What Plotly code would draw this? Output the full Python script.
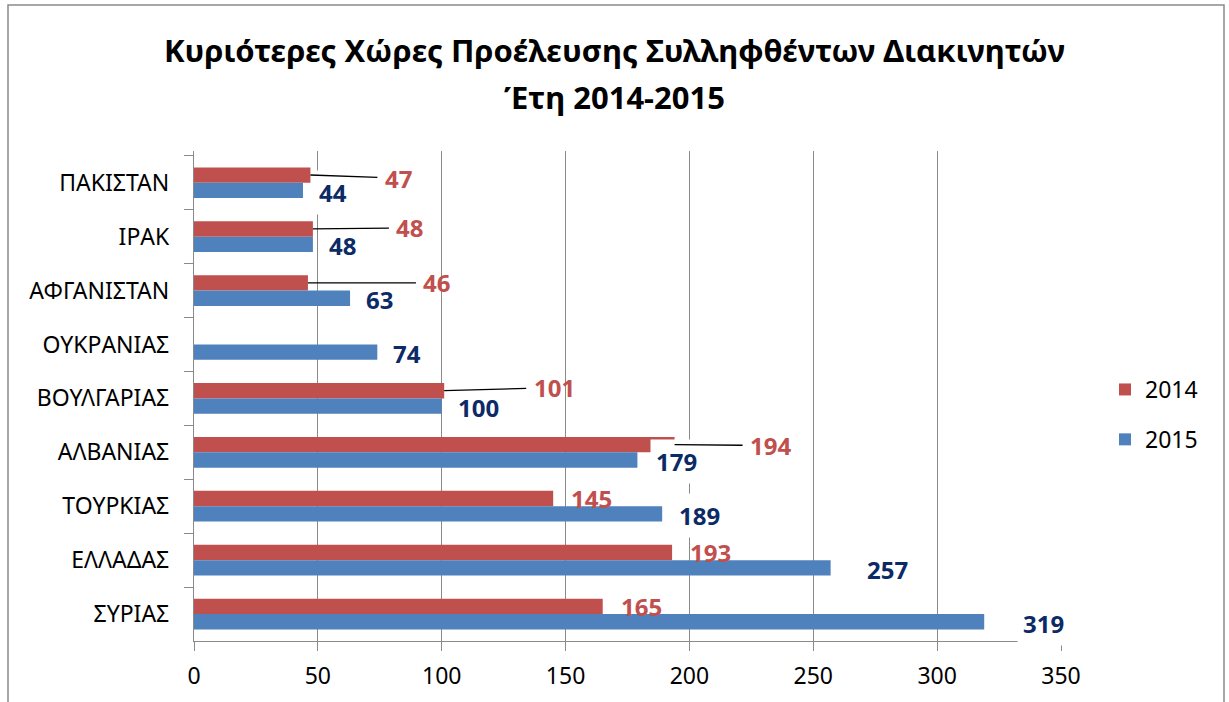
import plotly.graph_objects as go

# ---------------- data ----------------
categories = ["ΠΑΚΙΣΤΑΝ", "ΙΡΑΚ", "ΑΦΓΑΝΙΣΤΑΝ", "ΟΥΚΡΑΝΙΑΣ", "ΒΟΥΛΓΑΡΙΑΣ",
              "ΑΛΒΑΝΙΑΣ", "ΤΟΥΡΚΙΑΣ", "ΕΛΛΑΔΑΣ", "ΣΥΡΙΑΣ"]
values_2014 = [47, 48, 46, None, 101, 194, 145, 193, 165]
values_2015 = [44, 48, 63, 74, 100, 179, 189, 257, 319]
series_names = ["2014", "2015"]
x_ticks = [0, 50, 100, 150, 200, 250, 300, 350]
title_lines = ["Κυριότερες Χώρες Προέλευσης Συλληφθέντων Διακινητών", "Έτη 2014-2015"]

# ---------------- style ----------------
W, H = 1229, 702
PL, PR, PT, PB = 194, 1061, 151, 641
FONT = "Noto Sans"
RED = "#C0504D"
BLUE = "#4F81BD"
NAVY = "#0B2A66"
GRID = "#8A8A8A"
BAR_HALF = 7.75  # px, half bar thickness

def pxx(px):
    return (px - PL) / (PR - PL)

def pxy(py):
    return (PB - py) / (PB - PT)

fig = go.Figure()
fig.add_trace(go.Bar(y=categories, x=values_2014, name=series_names[0], orientation="h",
                     marker=dict(color=RED, line=dict(width=0)), legendgroup="a"))
fig.add_trace(go.Bar(y=categories, x=values_2015, name=series_names[1], orientation="h",
                     marker=dict(color=BLUE, line=dict(width=0)), legendgroup="b"))

annotations = []
# 2015 labels (white boxes)
blue_gap = {5: 18, 6: 16, 7: 35, 8: 38}
for i, (c, v) in enumerate(zip(categories, values_2015)):
    if v is None:
        continue
    annotations.append(dict(
        x=v, y=c, xref="x", yref="y", text=str(v), showarrow=False,
        xanchor="left", yanchor="middle", xshift=blue_gap.get(i, 15) - 5,
        yshift=-BAR_HALF - 1.5, bgcolor="white", borderpad=5,
        font=dict(family=FONT, size=24, color=NAVY, weight="bold")))

# 2014 labels (some moved with leader lines)
red_leader = {0: (88, 3), 1: (97, -1), 2: (129, 0), 4: (110, -3), 5: (96, 1)}
for i, (c, v) in enumerate(zip(categories, values_2014)):
    if v is None:
        continue
    if i in red_leader:
        ax, ay = red_leader[i]
        annotations.append(dict(
            x=v, y=c, xref="x", yref="y", text=str(v), showarrow=True,
            ax=ax, ay=ay, axref="pixel", ayref="pixel", arrowhead=0, arrowwidth=1.3,
            arrowcolor="black", standoff=0, startstandoff=6, yshift=BAR_HALF,
            font=dict(family=FONT, size=24, color=RED, weight="bold")))
    else:
        annotations.append(dict(
            x=v, y=c, xref="x", yref="y", text=str(v), showarrow=False,
            xanchor="left", yanchor="middle", xshift=16, yshift=BAR_HALF,
            font=dict(family=FONT, size=24, color=RED, weight="bold")))

# Title lines (centered on the canvas)
for line, ypx in zip(title_lines, [50, 97]):
    annotations.append(dict(
        x=pxx(W / 2), y=pxy(ypx), xref="paper", yref="paper",
        xanchor="center", yanchor="middle", text=line, showarrow=False,
        font=dict(family=FONT, size=31, color="black", weight="bold")))

shapes = [dict(type="rect", xref="paper", yref="paper",
               x0=pxx(8), x1=pxx(1224), y0=pxy(720), y1=pxy(5),
               line=dict(color="#8A8A8A", width=1.5), layer="below")]

fig.update_layout(
    width=W, height=H,
    margin=dict(l=PL, r=W - PR, t=PT, b=H - PB, autoexpand=False),
    paper_bgcolor="white", plot_bgcolor="white",
    barmode="group", bargap=0.43, bargroupgap=0,
    font=dict(family=FONT, size=23, color="black"),
    showlegend=True,
    legend=dict(x=pxx(1105), y=pxy(368), xanchor="left", yanchor="top",
                traceorder="grouped", tracegroupgap=17,
                font=dict(family=FONT, size=23, color="black"),
                bgcolor="rgba(0,0,0,0)"),
    annotations=annotations,
    shapes=shapes,
)
fig.update_xaxes(range=[0, 350], tickvals=x_ticks, ticktext=[str(t) for t in x_ticks],
                 showgrid=True, gridcolor=GRID, gridwidth=1.3,
                 showline=True, linecolor=GRID, linewidth=1.3,
                 ticks="outside", ticklen=9, tickcolor=GRID, tickwidth=1.3,
                 zeroline=False, ticklabelstandoff=5,
                 tickfont=dict(family=FONT, size=23, color="black"), fixedrange=True)
fig.update_yaxes(categoryorder="array", categoryarray=categories, autorange="reversed",
                 showgrid=False, showline=True, linecolor=GRID, linewidth=1.3,
                 ticks="outside", ticklen=9, tickcolor=GRID, tickwidth=1.3,
                 tickson="boundaries", ticklabelstandoff=19,
                 tickfont=dict(family=FONT, size=23, color="black"), fixedrange=True)

fig.write_html("out.html", config={"displayModeBar": False},
               post_script="document.body.style.margin='0';document.body.style.padding='0';"
                           "document.body.style.overflow='hidden';")
